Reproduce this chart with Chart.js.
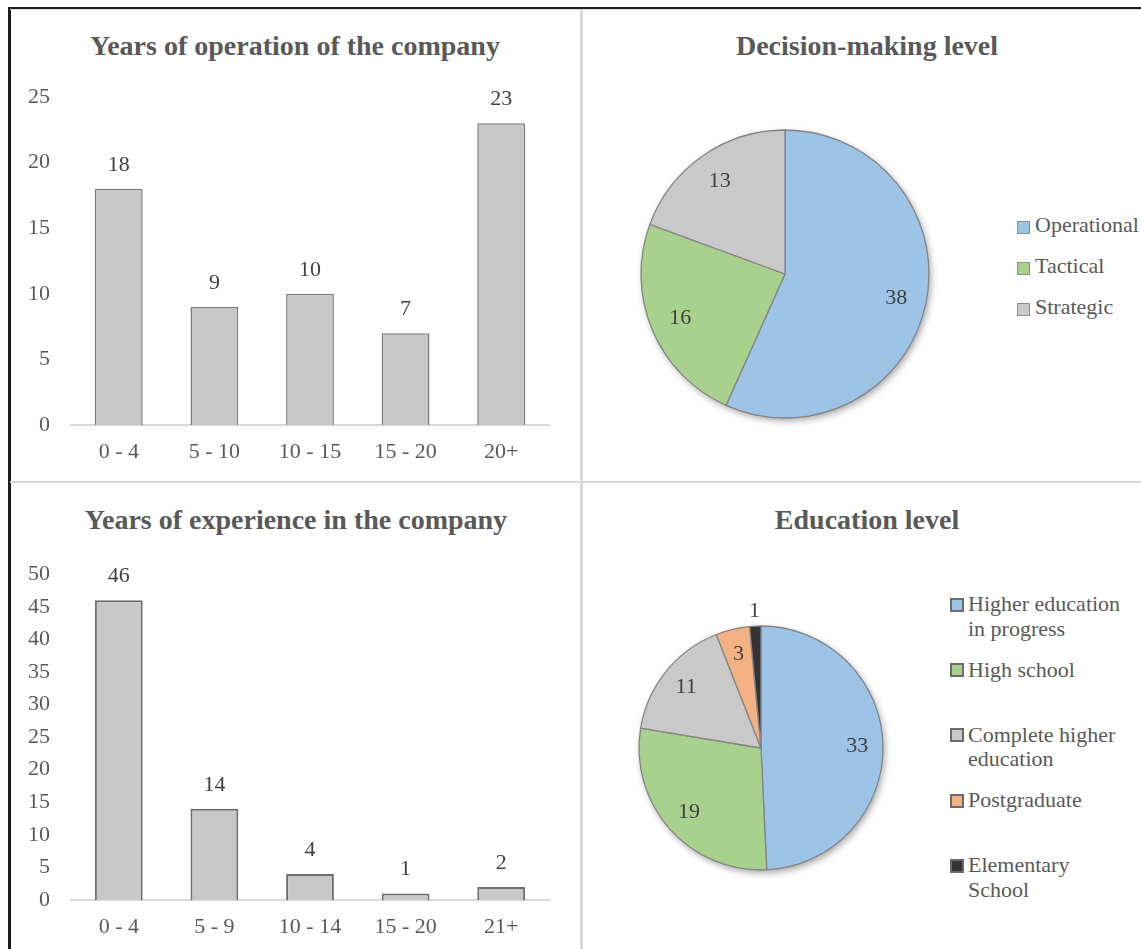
<!DOCTYPE html>
<html>
<head>
<meta charset="utf-8">
<script src="https://cdn.jsdelivr.net/npm/chart.js@4.4.1/dist/chart.umd.min.js"></script>
<style>
html,body{margin:0;padding:0;background:#fff;}
body{width:1141px;height:949px;overflow:hidden;position:relative;font-family:"Liberation Serif","Times New Roman",serif;}
.line{position:absolute;}
.box{position:absolute;}
.title{position:absolute;font-weight:bold;font-size:28px;line-height:28px;color:#595959;white-space:nowrap;transform:translateX(-50%);}
.legend{position:absolute;color:#595959;font-size:22px;}
.item{position:absolute;left:0;display:flex;align-items:flex-start;}
.sw{box-sizing:border-box;flex:none;}
</style>
</head>
<body>
<!-- frame -->
<div class="line" style="left:8px;top:7px;width:1133px;height:2px;background:#1e1e1e"></div>
<div class="line" style="left:8px;top:7px;width:2.5px;height:942px;background:#1e1e1e"></div>
<div class="line" style="left:10px;top:9px;width:1131px;height:1px;background:#d9d9d9"></div>
<div class="line" style="left:580px;top:9px;width:2.5px;height:940px;background:#d9d9d9"></div>
<div class="line" style="left:10px;top:480.5px;width:1131px;height:2.5px;background:#d9d9d9"></div>

<div class="title" style="left:295px;top:31.6px">Years of operation of the company</div>
<div class="title" style="left:867px;top:31.6px">Decision-making level</div>
<div class="title" style="left:296px;top:505.6px">Years of experience in the company</div>
<div class="title" style="left:867px;top:505.6px">Education level</div>

<div class="box" style="left:10px;top:60px;width:560px;height:420px"><canvas id="c1" width="560" height="420"></canvas></div>
<div class="box" style="left:10px;top:540px;width:560px;height:409px"><canvas id="c3" width="560" height="409"></canvas></div>
<div class="box" style="left:605px;top:94px;width:360px;height:360px"><canvas id="c2" width="360" height="360"></canvas></div>
<div class="box" style="left:601px;top:588px;width:320px;height:320px"><canvas id="c4" width="320" height="320"></canvas></div>

<div class="legend" id="leg2" style="left:1017px;top:211.6px"></div>
<div class="legend" id="leg4" style="left:950px;top:592.3px"></div>

<script>
// ---- data ----
const operationCategories = ["0 - 4", "5 - 10", "10 - 15", "15 - 20", "20+"];
const operationValues = [18, 9, 10, 7, 23];
const operationAxisMax = 25;

const experienceCategories = ["0 - 4", "5 - 9", "10 - 14", "15 - 20", "21+"];
const experienceValues = [46, 14, 4, 1, 2];
const experienceAxisMax = 50;

const axisStep = 5;

const decisionLabels = ["Operational", "Tactical", "Strategic"];
const decisionValues = [38, 16, 13];

const educationLabels = ["Higher education in progress", "High school", "Complete higher education", "Postgraduate", "Elementary School"];
const educationValues = [33, 19, 11, 3, 1];

// ---- styles ----
const FONT = '"Liberation Serif", "Times New Roman", serif';
const decisionColors = ["#9dc3e6", "#a9d18e", "#c9c9c9"];
const educationColors = ["#9dc3e6", "#a9d18e", "#c9c9c9", "#f4b183", "#333333"];

const barValueLabels = {
  id: 'barValueLabels',
  afterDatasetsDraw(chart) {
    const ctx = chart.ctx;
    const meta = chart.getDatasetMeta(0);
    const ds = chart.data.datasets[0];
    ctx.save();
    ctx.font = '22px ' + FONT;
    ctx.fillStyle = '#404040';
    ctx.textAlign = 'center';
    ctx.textBaseline = 'middle';
    meta.data.forEach((bar, i) => ctx.fillText(String(ds.data[i]), bar.x, bar.y - 24));
    ctx.restore();
  }
};

const pieShadow = {
  id: 'pieShadow',
  beforeDatasetsDraw(chart) {
    const a = chart.getDatasetMeta(0).data[0];
    if (!a) return;
    const ctx = chart.ctx;
    ctx.save();
    ctx.shadowColor = 'rgba(0,0,0,0.35)';
    ctx.shadowBlur = 7;
    ctx.shadowOffsetX = 2;
    ctx.shadowOffsetY = 3;
    ctx.fillStyle = '#9a9a9a';
    ctx.beginPath();
    ctx.arc(a.x, a.y, a.outerRadius, 0, Math.PI * 2);
    ctx.fill();
    ctx.restore();
  }
};

const pieValueLabels = {
  id: 'pieValueLabels',
  afterDatasetsDraw(chart) {
    const ctx = chart.ctx;
    const meta = chart.getDatasetMeta(0);
    const ds = chart.data.datasets[0];
    const total = ds.data.reduce((s, v) => s + v, 0);
    ctx.save();
    ctx.font = '22px ' + FONT;
    ctx.fillStyle = '#404040';
    ctx.textAlign = 'center';
    ctx.textBaseline = 'middle';
    meta.data.forEach((arc, i) => {
      const mid = (arc.startAngle + arc.endAngle) / 2;
      const frac = ds.data[i] / total;
      const d = frac < 0.03 ? arc.outerRadius + 15 : arc.outerRadius * 0.79;
      ctx.fillText(String(ds.data[i]), arc.x + Math.cos(mid) * d, arc.y + Math.sin(mid) * d);
    });
    ctx.restore();
  }
};

function barChart(id, labels, values, yMax, padTop, padBottom, bw, bc) {
  return new Chart(document.getElementById(id), {
    type: 'bar',
    data: {
      labels: labels,
      datasets: [{
        data: values,
        backgroundColor: '#c8c8c8',
        borderColor: bc,
        borderWidth: bw,
        borderSkipped: 'start',
        categoryPercentage: 1,
        barPercentage: 0.5
      }]
    },
    options: {
      responsive: false,
      animation: false,
      devicePixelRatio: 1,
      layout: { padding: { top: padTop, right: 21, bottom: padBottom, left: 0 } },
      plugins: { legend: { display: false }, tooltip: { enabled: false }, title: { display: false } },
      scales: {
        x: {
          grid: { display: false, drawTicks: false },
          border: { display: true, color: '#d9d9d9', width: 2 },
          ticks: { color: '#595959', font: { family: FONT, size: 22 }, padding: 14, maxRotation: 0, autoSkip: false },
          afterFit(s) { s.height = 36; }
        },
        y: {
          min: 0, max: yMax,
          grid: { display: false, drawTicks: false },
          border: { display: false },
          ticks: { stepSize: axisStep, color: '#595959', font: { family: FONT, size: 22 }, padding: 21 },
          afterFit(s) { s.width = 61; }
        }
      }
    },
    plugins: [barValueLabels]
  });
}

function pieChart(id, labels, values, colors, radius) {
  return new Chart(document.getElementById(id), {
    type: 'pie',
    data: {
      labels: labels,
      datasets: [{
        data: values,
        backgroundColor: colors,
        borderColor: '#858585',
        borderWidth: 1.3,
        radius: radius
      }]
    },
    options: {
      responsive: false,
      animation: false,
      devicePixelRatio: 1,
      layout: { padding: 30 },
      plugins: { legend: { display: false }, tooltip: { enabled: false } }
    },
    plugins: [pieShadow, pieValueLabels]
  });
}

function buildLegend(id, labels, colors, cfg) {
  const el = document.getElementById(id);
  labels.forEach((lab, i) => {
    const item = document.createElement('div');
    item.className = 'item';
    item.style.top = (i * cfg.step) + 'px';
    const sw = document.createElement('div');
    sw.className = 'sw';
    sw.style.width = cfg.sw + 'px';
    sw.style.height = cfg.sw + 'px';
    sw.style.background = colors[i];
    sw.style.border = cfg.swBorder;
    sw.style.marginTop = cfg.swTop + 'px';
    sw.style.marginRight = cfg.gap + 'px';
    const tx = document.createElement('div');
    tx.textContent = lab;
    tx.style.lineHeight = cfg.lh + 'px';
    if (cfg.width) { tx.style.width = cfg.width + 'px'; } else { tx.style.whiteSpace = 'nowrap'; }
    item.appendChild(sw);
    item.appendChild(tx);
    el.appendChild(item);
  });
}

barChart('c1', operationCategories, operationValues, operationAxisMax, 37, 19, 1.5, '#7a7a7a');
barChart('c3', experienceCategories, experienceValues, experienceAxisMax, 30, 13, 2, '#6e6e6e');
pieChart('c2', decisionLabels, decisionValues, decisionColors, 144);
pieChart('c4', educationLabels, educationValues, educationColors, 122);

buildLegend('leg2', decisionLabels, decisionColors, { step: 41, sw: 13, swBorder: '1px solid #8c8c8c', swTop: 9.4, gap: 5, lh: 26 });
buildLegend('leg4', educationLabels, educationColors, { step: 65.25, sw: 14, swBorder: '2px solid #6b6b6b', swTop: 5.7, gap: 4, lh: 24.5, width: 165 });
</script>
</body>
</html>
